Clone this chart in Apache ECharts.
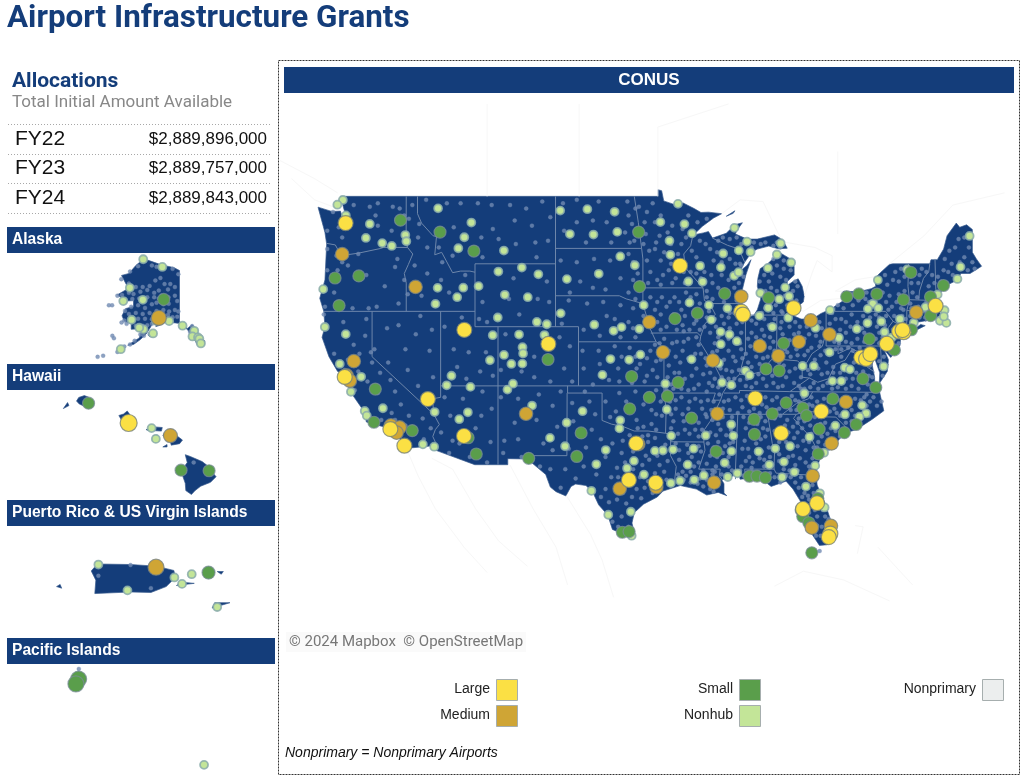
<!DOCTYPE html>
<html>
<head>
<meta charset="utf-8">
<title>Airport Infrastructure Grants</title>
<script src="https://cdn.jsdelivr.net/npm/echarts@6/dist/echarts.min.js"></script>
<style>
  html, body { margin: 0; padding: 0; background: #fff; }
  #chart-container { width: 1024px; height: 784px; }
</style>
</head>
<body>
<div id="chart-container"></div>
<script>
// Table values
const fiscalYears = ["FY22", "FY23", "FY24"];
const fiscalAmounts = ["$2,889,896,000", "$2,889,757,000", "$2,889,843,000"];
const panelNames = ["Alaska", "Hawaii", "Puerto Rico & US Virgin Islands", "Pacific Islands"];
const hubNames = ["Large", "Medium", "Small", "Nonhub", "Nonprimary"];
const hubColors = ["#fbe044", "#cfa535", "#5a9e4b", "#c3e598", "#eceeee"];

// Land outlines, [lon, lat]
const conusLand = [
  [[-124.7,48.38],[-123.5,48.13],[-122.75,48.15],[-122.4,47.4],[-122.3,47.9],[-122.75,49],[-95.15,49],[-95.15,49.38],[-94.82,49.32],[-94.64,48.74],[-93.8,48.55],[-92.95,48.62],[-92,48.3],[-91.4,48.07],[-90.75,48.09],[-89.6,48],[-90.3,47.75],[-91.3,47.25],[-92.05,46.75],[-91.2,46.87],[-90.75,46.95],[-90.4,46.56],[-89.2,46.85],[-88.45,47.35],[-87.8,47.47],[-88.3,47],[-88.4,46.8],[-87.4,46.5],[-86.5,46.5],[-85,46.75],[-84.4,46.5],[-84.1,46.2],[-83.9,45.95],[-84.7,45.92],[-85.5,46.08],[-86.5,45.9],[-87,45.7],[-87.6,45.1],[-88,44.55],[-87.4,44.9],[-87.05,45.25],[-87.5,44.3],[-87.8,43.4],[-87.9,43],[-87.8,42.3],[-87.6,41.85],[-87.3,41.62],[-86.8,41.75],[-86.5,42.1],[-86.2,42.8],[-86.5,43.6],[-86.45,44.1],[-86.25,44.7],[-85.6,45],[-85,45.4],[-84.75,45.76],[-84.1,45.5],[-83.4,45.2],[-83.3,44.8],[-83.3,44.3],[-83.9,43.9],[-83.9,43.65],[-83.4,43.9],[-82.95,44.07],[-82.6,43.6],[-82.42,43],[-82.5,42.6],[-83.1,42.25],[-83.4,41.73],[-82.7,41.5],[-81.7,41.5],[-81,41.85],[-80.1,42.15],[-79,42.7],[-78.9,42.9],[-79.05,43.27],[-77.6,43.27],[-76.6,43.45],[-76.2,43.6],[-76.3,44.1],[-75.8,44.45],[-75,44.97],[-74.7,45],[-71.5,45],[-71.4,45.25],[-70.85,45.25],[-70.3,45.9],[-70,46.7],[-69.2,47.45],[-68.9,47.2],[-68.3,47.35],[-67.8,47.07],[-67.8,45.7],[-67.45,45.3],[-67,44.85],[-68,44.4],[-68.8,44.4],[-69.1,44],[-70.2,43.6],[-70.7,43.05],[-70.8,42.8],[-70.6,42.65],[-71,42.3],[-70.65,41.95],[-70.5,41.78],[-70,41.78],[-70.2,42.07],[-69.95,41.7],[-70.6,41.55],[-71.1,41.5],[-71.4,41.45],[-72.9,41.25],[-73.65,41],[-73.9,40.8],[-74,40.7],[-74,40.45],[-74.1,39.75],[-74.4,39.4],[-74.9,38.95],[-75.5,39.5],[-75.1,38.8],[-75.2,38],[-75.9,37.15],[-75.85,37.9],[-76.3,38.9],[-76.1,39.4],[-76.5,39.1],[-76.5,38.4],[-76.3,37.6],[-76.3,36.95],[-75.95,36.85],[-75.5,35.25],[-76.5,34.65],[-77.9,33.9],[-78.9,33.65],[-79.9,32.7],[-81,32],[-81.4,30.7],[-81.3,29.8],[-80.6,28.4],[-80.05,26.9],[-80.15,25.75],[-80.4,25.2],[-81.1,25.15],[-81.8,26.1],[-82.25,26.9],[-82.75,27.8],[-82.7,28.5],[-83.4,29.5],[-84,30.1],[-85.3,29.7],[-86.3,30.38],[-87.5,30.28],[-88,30.25],[-88.1,30.65],[-88.9,30.4],[-89.6,30.2],[-89.4,29.9],[-89.4,29.2],[-89.15,29],[-89.9,29.25],[-90.9,29.05],[-91.8,29.5],[-93.2,29.77],[-94.7,29.35],[-95.2,28.9],[-96.4,28.35],[-97.2,27.7],[-97.4,26.9],[-97.15,25.96],[-97.6,25.95],[-98.2,26.05],[-99.1,26.4],[-99.5,27.5],[-100.3,28.3],[-100.8,29.25],[-101.4,29.77],[-102.3,29.88],[-102.7,29.7],[-103.15,28.98],[-104,29.3],[-104.5,29.65],[-104.9,30.6],[-106.5,31.75],[-108.2,31.78],[-108.2,31.33],[-111.07,31.33],[-114.8,32.5],[-114.72,32.72],[-117.12,32.53],[-117.25,32.85],[-117.9,33.6],[-118.4,33.74],[-118.5,34.03],[-119.2,34.15],[-120.5,34.45],[-120.65,35.15],[-121.9,36.6],[-122.05,36.95],[-122.5,37.5],[-122.5,37.8],[-123,38],[-123.75,39],[-124.35,40.3],[-124.1,41],[-124.2,42],[-124.55,42.84],[-124.1,44],[-123.95,46.2],[-124.1,46.9]],
  [[-74,40.6],[-73.75,40.85],[-72.6,40.98],[-72.3,41.15],[-71.9,41.07],[-73,40.65]],
  [[-89.2,47.85],[-88.45,48.17],[-88.6,48.02]]
];
const alaskaLand = [
  [[-141,69.65],[-143.5,70.1],[-148.5,70.45],[-152,70.85],[-156.5,71.35],[-160,70.4],[-163,69.2],[-166.2,68.9],[-163.8,67.2],[-161.8,66.5],[-164,66.6],[-168,65.65],[-164.5,64.5],[-161,64.6],[-161,63.5],[-164.5,63.05],[-166,61.6],[-165,60.5],[-162,59.9],[-162,58.7],[-158.5,58.8],[-157.3,58.6],[-158.5,56.7],[-161,55.8],[-163.5,54.9],[-161,55.1],[-158,56.3],[-155.5,57.6],[-153.8,59],[-152.7,60],[-151.5,60.9],[-150,61.2],[-151.3,59.3],[-150,59.5],[-148,60],[-146,60.8],[-144.5,60.2],[-141,60]],
  [[-141,60.3],[-139.7,59.55],[-137.5,58.6],[-136.3,57.7],[-134.5,56.3],[-133.3,55.1],[-131.5,54.8],[-130.1,55],[-130,56],[-131.9,56.6],[-133.8,58.8],[-135.5,59.75],[-137.5,58.9]],
  [[-154.5,57.4],[-153,58.1],[-152.2,57.6],[-153.8,56.9]]
];
const hawaiiLand = [
  [[-159.78,22.05],[-159.7,22.17],[-159.5,22.23],[-159.35,22.18],[-159.3,22.05],[-159.35,21.93],[-159.5,21.88],[-159.68,21.95]],
  [[-160.25,21.8],[-160.1,22],[-160.05,21.9]],
  [[-158.27,21.57],[-158.1,21.62],[-157.97,21.72],[-157.8,21.5],[-157.65,21.3],[-157.85,21.26],[-158.1,21.3]],
  [[-157.3,21.1],[-157,21.19],[-156.72,21.17],[-156.75,21.05],[-157.25,21.08]],
  [[-157.05,20.9],[-156.9,20.92],[-156.85,20.75],[-157,20.75]],
  [[-156.7,20.9],[-156.6,21.03],[-156.45,20.92],[-156.25,20.93],[-156,20.75],[-156.1,20.63],[-156.4,20.58],[-156.45,20.78]],
  [[-156.7,20.52],[-156.55,20.6],[-156.55,20.52]],
  [[-155.9,20.26],[-155.72,20.2],[-155.3,20.03],[-155.08,19.87],[-154.98,19.72],[-154.8,19.52],[-155,19.33],[-155.35,19.2],[-155.55,19.05],[-155.68,18.92],[-155.88,19.05],[-155.9,19.3],[-156.05,19.7],[-155.83,20]]
];
const puertoRicoLand = [
  [[-67.27,18.37],[-67.15,18.5],[-66.5,18.49],[-66,18.46],[-65.65,18.38],[-65.62,18.25],[-65.8,18.08],[-66.1,17.97],[-66.5,17.98],[-67.2,17.95],[-67.18,18.2]],
  [[-67.95,18.08],[-67.88,18.12],[-67.85,18.05]],
  [[-65.6,18.1],[-65.25,18.14],[-65.5,18.16]],
  [[-65.05,18.33],[-64.85,18.37],[-64.9,18.3]],
  [[-64.8,18.36],[-64.68,18.36],[-64.72,18.31]],
  [[-64.9,17.68],[-64.55,17.78],[-64.85,17.78]]
];
const pacificLand = [
  [[144.62,13.25],[144.95,13.65],[144.95,13.42],[144.75,13.24]],
  [[145.68,15.05],[145.8,15.28],[145.82,15.1]],
  [[189.15,-14.37],[189.45,-14.26],[189.4,-14.33]]
];

// State borders, [lon, lat]
const stateLines = [
  [[-124,46.25],[-123.2,46.15],[-122.8,45.65],[-122.2,45.55],[-121.2,45.65],[-119.3,45.93],[-119,46],[-116.92,46]],
  [[-117.03,49],[-117.04,46.42],[-116.92,46],[-116.46,45.6],[-116.85,44.95],[-117.2,44.4],[-117.03,43.8],[-117.03,42]],
  [[-124.2,42],[-111.05,42]],
  [[-120,42],[-120,39],[-114.63,35],[-114.15,34.27],[-114.5,33.9],[-114.72,33.4],[-114.5,33],[-114.72,32.72]],
  [[-114.04,42],[-114.04,36.2],[-114.75,36.1],[-114.63,35]],
  [[-114.04,37],[-94.62,37]],
  [[-109.05,41],[-109.05,31.33]],
  [[-111.05,45],[-111.05,41],[-102.05,41],[-102.05,37]],
  [[-116.05,49],[-116.05,48],[-115.7,47.45],[-114.7,46.7],[-114.4,46.65],[-114.55,45.55],[-113.95,45.7],[-113.45,45.05],[-113,44.45],[-112.3,44.55],[-111.5,44.55],[-111.05,44.48]],
  [[-111.05,45],[-104.05,45]],
  [[-104.05,49],[-104.05,41]],
  [[-104.05,45.94],[-96.56,45.94]],
  [[-104.05,43],[-98.5,43],[-97.9,42.8],[-96.45,42.5]],
  [[-102.05,40],[-95.3,40]],
  [[-97.2,49],[-96.85,47.5],[-96.56,45.94],[-96.45,45.3],[-96.45,42.5],[-96.1,41.6],[-95.9,41],[-95.3,40],[-94.9,39.8],[-94.62,39.1],[-94.62,36.5],[-94.43,35.4],[-94.48,33.64]],
  [[-96.45,43.5],[-91.22,43.5]],
  [[-92.1,46.75],[-92.3,46.1],[-92.9,45.6],[-92.75,44.75],[-91.22,43.5],[-91.1,42.7],[-90.64,42.5],[-90.15,41.8],[-91.05,41.2],[-91.42,40.38],[-91.5,40],[-90.7,39],[-90.2,38.75],[-90.2,38.4],[-89.5,37.3],[-89.13,36.98],[-89.5,36.5],[-89.7,36],[-90.3,35],[-90.6,34.5],[-91.1,33.9],[-91.15,33],[-91.05,32.4],[-91.6,31],[-89.73,31],[-89.8,30.5],[-89.55,30.2]],
  [[-95.77,40.58],[-91.73,40.6],[-91.42,40.38]],
  [[-90.64,42.5],[-87.8,42.5]],
  [[-90.4,46.56],[-89.1,46.13],[-88.1,45.9],[-87.6,45.1]],
  [[-87.53,41.7],[-87.53,39.35],[-88.05,37.8]],
  [[-84.8,41.7],[-84.82,39.1]],
  [[-87.2,41.76],[-84.8,41.76],[-83.4,41.73]],
  [[-89.13,36.98],[-88.05,37.8],[-87.1,37.8],[-86,38],[-85.4,38.7],[-84.82,39.1],[-84.2,38.8],[-83,38.72],[-82.6,38.4],[-82.2,38.6],[-81.75,39.2],[-80.85,39.7],[-80.52,40.64]],
  [[-80.52,42],[-80.52,39.72],[-75.79,39.72]],
  [[-79.76,42.27],[-79.76,42],[-75.35,42],[-74.7,41.36],[-75.1,40.95],[-75.2,40.65],[-74.75,40.2],[-75.4,39.8]],
  [[-74.7,41.36],[-73.9,41]],
  [[-82.6,38.4],[-82.6,37.6],[-81.97,37.54],[-83.67,36.6]],
  [[-81.97,37.54],[-81.25,37.25],[-80.3,37.5],[-79.7,38.5],[-78.87,38.76],[-78.35,39.4],[-77.83,39.13],[-77.72,39.32]],
  [[-79.48,39.72],[-79.48,39.2],[-78.4,39.6],[-77.72,39.32],[-77.1,38.85],[-76.95,38.3],[-76.3,37.95]],
  [[-89.4,36.5],[-88.05,36.5],[-88.05,36.68],[-83.67,36.6],[-75.87,36.55]],
  [[-81.68,36.59],[-82.05,36.1],[-83.1,35.77],[-84.32,35]],
  [[-90.3,35],[-83.1,35]],
  [[-94.62,36.5],[-90.15,36.5],[-90.35,36],[-89.7,36]],
  [[-94.04,33.02],[-91.15,33]],
  [[-94.04,33.55],[-94.04,32],[-93.55,31.2],[-93.7,30.1],[-93.85,29.7]],
  [[-88.2,35],[-88.4,31],[-88.4,30.25]],
  [[-85.6,35],[-85.2,32.9],[-85,32.3],[-85.05,31],[-84.86,30.7],[-82.2,30.57],[-82.05,30.36],[-82,30.75],[-81.45,30.7]],
  [[-87.6,31],[-85,31]],
  [[-87.6,31],[-87.5,30.3]],
  [[-83.1,35],[-83.35,34.7],[-82.55,33.95],[-81.9,33.4],[-81.4,32.6],[-80.9,32.05]],
  [[-83.1,35],[-82.3,35.2],[-81.05,35.15],[-80.8,34.82],[-79.67,34.8],[-78.55,33.86]],
  [[-103,37],[-103,36.5],[-100,36.5],[-100,34.56],[-99.2,34.3],[-98.1,34.1],[-97.2,33.8],[-96,33.8],[-94.48,33.64],[-94.04,33.55]],
  [[-103.04,36.5],[-103.06,32],[-106.6,32],[-106.53,31.78]],
  [[-71.5,45],[-71.6,44.5],[-72.05,44.1],[-72.4,43.3],[-72.46,42.73]],
  [[-71.05,45.3],[-70.98,43.4],[-70.7,43.07]],
  [[-73.35,45],[-73.4,43.6],[-73.27,42.75],[-73.5,42.05],[-73.5,41.3],[-73.65,41]],
  [[-73.27,42.75],[-71.3,42.7],[-70.8,42.87]],
  [[-73.5,42.05],[-71.38,42.02],[-71.13,41.5]],
  [[-71.8,42.02],[-71.85,41.32]],
  [[-75.79,39.72],[-75.7,38.46],[-75.05,38.45]]
];

// Faint basemap lines outside the US
const basemapLines = [
  [[-117,32.5],[-116,30.5],[-114.5,28],[-112,25],[-110,23]],
  [[-114.8,31.8],[-113,31],[-111,28],[-109,25.5],[-106.5,23.5]],
  [[-108,31.3],[-106,28],[-104,25],[-103,22]],
  [[-103.1,29],[-101,26],[-100,24],[-99,21]],
  [[-110,49],[-110,54]],
  [[-102,49],[-102,54]],
  [[-95.15,49],[-95.15,52.8],[-89,54]],
  [[-79.5,46.8],[-79.5,51.5]],
  [[-89.6,48],[-88,48.8],[-86,48.7],[-84.8,47],[-84.4,46.5]],
  [[-82.4,43],[-81.7,44.5],[-81.3,45.2],[-80,44.5],[-80,45.5],[-81.5,46],[-84,46.3]],
  [[-83.1,42.2],[-82.5,42],[-81,42.7],[-79,42.85]],
  [[-79.05,43.27],[-79.7,43.3],[-78,44],[-76.3,44.2]],
  [[-75,45],[-72,46.7],[-69.5,48.5],[-65,49.2]],
  [[-123,49.2],[-125,50],[-128,51]],
  [[-123.4,48.4],[-125,48.8],[-127,50]],
  [[-85,21.9],[-82.5,23.1],[-79,22.4],[-75,20.7]],
  [[-78,26.7],[-77.3,26.6],[-77.8,24.5]],
  [[-76,25],[-74.5,23.5],[-73,22]]
];

// Airports by hub size, [lon, lat]
const largeHubs = [[-122.3,47.45],[-122.38,37.62],[-118.41,33.94],[-117.19,32.73],[-115.15,36.08],[-112.01,33.44],[-111.98,40.79],[-104.67,39.86],[-93.22,44.88],[-97.04,32.9],[-97.67,30.19],[-95.34,29.98],[-87.9,41.98],[-87.75,41.79],[-83.35,42.21],[-84.43,33.64],[-86.68,36.12],[-80.94,35.21],[-81.31,28.43],[-82.53,27.98],[-80.15,26.07],[-80.29,25.8],[-77.46,38.95],[-77.04,38.85],[-76.67,39.18],[-75.24,39.87],[-74.17,40.69],[-73.78,40.64],[-73.87,40.78],[-71,42.36]];
const mediumHubs = [[-122.6,45.59],[-121.59,38.7],[-116.22,43.56],[-122.22,37.72],[-121.93,37.36],[-118.36,34.2],[-117.6,34.06],[-117.87,33.68],[-106.61,35.04],[-98.47,29.53],[-96.85,32.85],[-95.28,29.65],[-95.89,41.3],[-94.71,39.3],[-90.37,38.75],[-87.9,42.95],[-86.29,39.72],[-84.67,39.05],[-82.89,40],[-81.85,41.41],[-80.23,40.49],[-72.68,41.94],[-78.79,35.88],[-80.04,32.9],[-89.98,35.04],[-90.26,29.99],[-81.69,30.49],[-81.76,26.54],[-80.1,26.68]];
const smallHubs = [[-117.53,47.62],[-121.15,44.25],[-123.22,44.12],[-122.87,42.37],[-114.09,46.92],[-111.15,45.78],[-104.7,38.81],[-96.82,46.92],[-96.74,43.58],[-89.34,43.14],[-85.52,42.88],[-93.66,41.53],[-91.71,41.88],[-78.73,42.94],[-77.67,43.12],[-76.11,43.11],[-73.15,44.47],[-73.8,42.75],[-71.44,42.93],[-70.31,43.65],[-71.43,41.72],[-73.1,40.8],[-76.76,40.19],[-74.58,39.46],[-119.72,36.78],[-119.84,34.43],[-116.51,33.83],[-111.65,33.31],[-110.94,32.12],[-106.38,31.8],[-101.82,33.66],[-102.2,31.94],[-98.24,26.18],[-97.65,26.23],[-97.6,35.39],[-97.43,37.65],[-95.89,36.2],[-94.31,36.28],[-93.38,37.24],[-85.74,38.17],[-84.6,38.04],[-84.22,39.9],[-77.32,37.5],[-76.2,36.89],[-83.99,35.81],[-79.94,36.1],[-82.54,35.44],[-85.2,35.04],[-82.22,34.9],[-92.22,34.73],[-86.78,34.64],[-86.75,33.56],[-77.9,34.27],[-81.12,33.94],[-78.93,33.68],[-90.08,32.31],[-81.2,32.13],[-87.19,30.47],[-86.53,30.48],[-85.8,30.36],[-81.24,28.78],[-82.69,27.91],[-82.55,27.4],[-82.02,26.92],[-81.76,24.56]];
const nonhubs = [[-122.54,48.79],[-123.02,48.52],[-122.28,47.9],[-120.2,47.4],[-120.54,46.57],[-119.12,46.26],[-118.29,46.09],[-117.11,46.74],[-117.02,46.37],[-124.25,43.42],[-124.11,40.98],[-122.29,40.51],[-122.81,38.51],[-114.3,43.5],[-112.07,43.51],[-112.6,42.91],[-114.49,42.48],[-114.26,48.31],[-111.98,46.61],[-112.5,45.95],[-111.37,47.48],[-108.54,45.81],[-110.74,43.61],[-109.02,44.52],[-106.98,44.77],[-105.54,44.35],[-108.46,43.06],[-106.46,42.91],[-109.07,41.6],[-104.81,41.16],[-105.67,41.31],[-109.51,40.44],[-109.75,38.76],[-108.53,39.12],[-107.22,40.48],[-106.92,39.64],[-106.87,39.22],[-107.89,38.51],[-106.93,38.53],[-105.01,40.45],[-103.64,48.18],[-101.28,48.26],[-98.91,48.11],[-102.8,46.8],[-100.75,46.77],[-98.68,46.93],[-103.06,44.05],[-100.29,44.38],[-98.42,45.45],[-97.15,44.91],[-103.6,41.87],[-100.68,41.13],[-99,40.73],[-98.31,40.97],[-96.76,40.85],[-96.38,42.4],[-99.27,38.84],[-97.65,38.79],[-96.67,39.14],[-93.4,48.57],[-94.93,47.51],[-92.84,47.39],[-92.18,46.84],[-94.14,46.4],[-94.06,45.55],[-92.5,43.9],[-91.26,43.88],[-91.48,44.87],[-89.47,45.63],[-89.67,44.78],[-88.52,44.26],[-88.13,44.48],[-88.11,45.82],[-87.4,46.35],[-88.49,47.17],[-85.58,44.74],[-84.8,45.57],[-84.47,46.25],[-83.56,45.08],[-87.09,45.72],[-84.08,43.53],[-83.74,42.97],[-84.59,42.78],[-85.55,42.23],[-86.24,43.17],[-83.81,41.59],[-86.32,41.71],[-85.19,40.98],[-88.92,40.48],[-88.28,40.04],[-89.68,39.84],[-90.51,41.45],[-89.69,40.66],[-89.1,42.2],[-90.71,42.4],[-92.4,42.56],[-92.22,38.82],[-89.84,38.55],[-81.44,40.92],[-79.4,40.27],[-76.92,41.24],[-80.23,39.3],[-82.56,38.37],[-81.59,38.37],[-80.18,42.08],[-76.02,43.99],[-73.47,44.65],[-75.72,41.34],[-76.46,42.49],[-75.98,42.21],[-74.1,41.5],[-76.89,42.16],[-75.44,40.65],[-77.85,40.85],[-74.81,40.28],[-75.51,38.34],[-78.9,38.26],[-78.45,38.14],[-68.04,46.69],[-68.83,44.81],[-69.1,44.06],[-70.82,43.08],[-71.88,42.27],[-70.22,42.07],[-70.62,41.39],[-70.06,41.25],[-70.28,41.67],[-72.89,41.26],[-121.84,36.59],[-119.06,35.43],[-120.64,35.24],[-120.46,34.9],[-115.58,32.83],[-114.6,32.66],[-114.56,35.16],[-113.51,37.04],[-111.45,36.93],[-113.1,37.7],[-111.67,35.14],[-112.42,34.65],[-120.95,37.63],[-108.23,36.74],[-107.75,37.15],[-106.09,35.62],[-101.7,35.22],[-103.08,34.4],[-104.53,33.3],[-103.22,32.69],[-100.93,29.37],[-100.5,31.36],[-99.68,32.41],[-98.49,33.99],[-98.42,34.57],[-97.23,31.61],[-97.83,31.07],[-96.36,30.59],[-99.46,27.54],[-97.5,27.77],[-97.43,25.91],[-99.97,37.76],[-94.5,37.15],[-88.77,37.06],[-89.57,37.23],[-87.53,38.04],[-87.17,37.74],[-79.97,37.33],[-79.2,37.33],[-77.38,35.64],[-77.04,35.07],[-77.61,34.83],[-78.88,34.99],[-82.41,36.48],[-94.37,35.34],[-93.99,33.45],[-93.83,32.45],[-95.4,32.35],[-94.71,32.38],[-92.04,32.51],[-88.59,33.45],[-88.77,34.27],[-90.99,33.48],[-88.75,32.33],[-86.39,32.3],[-84.94,32.52],[-81.96,33.37],[-83.65,32.69],[-84.19,31.54],[-85.45,31.32],[-89.34,31.47],[-92.55,31.33],[-81.47,31.26],[-83.28,30.78],[-88.24,30.69],[-84.35,30.4],[-89.07,30.41],[-91.15,30.53],[-91.99,30.2],[-93.22,30.13],[-94.02,29.95],[-82.27,29.69],[-81.06,29.18],[-80.65,28.1],[-80.7,32.22],[-79.72,34.19]];
const nonprimaryWest = [[-123.4,48.1],[-122.9,47.2],[-123.9,47],[-122.6,46.6],[-121.6,48.5],[-120.2,48.4],[-119.5,48.6],[-118.2,48.4],[-117.6,48.3],[-119.5,47.3],[-118.3,47],[-117.2,47.9],[-119.7,47.9],[-123.9,45.9],[-123.1,45.5],[-122.1,44.9],[-123.9,44.6],[-123.3,43.2],[-124.1,42.3],[-121.7,42.2],[-121.2,45.6],[-120.5,44.3],[-118.9,43.6],[-117.8,45.3],[-118,44.8],[-117.2,44],[-119.6,42.3],[-120.3,42.2],[-117.7,42.5],[-123.3,39.2],[-124.2,41.8],[-122.5,41.3],[-120.5,41.5],[-121.6,39.8],[-120.6,40.4],[-120.1,39.3],[-121.8,38.9],[-121.2,38],[-119.3,37.9],[-118.4,37.4],[-120.4,37.3],[-119.5,36.5],[-118,36.6],[-117.5,35.7],[-118.3,35.1],[-116.8,34.9],[-115.6,34.7],[-114.9,34],[-116.3,33.6],[-115.5,33.2],[-117.2,33],[-121.5,36.7],[-122.1,37.3],[-119.8,39.5],[-118.7,40.9],[-117.7,41.1],[-116.2,40.5],[-115.8,41.7],[-114.8,40.8],[-115,39.4],[-116.9,38.1],[-118.6,38.6],[-117.1,39.5],[-114.7,37.6],[-116,37],[-116.8,47.7],[-116.5,48.5],[-115.9,47.4],[-116,46.6],[-115.2,46],[-116.3,44.9],[-115.2,44.4],[-113.9,45.1],[-114,44],[-116.9,43.1],[-115.7,43],[-113.3,43.2],[-111.9,44.3],[-115.3,48.8],[-113.5,48.6],[-112.3,48.6],[-110.8,48.6],[-109.6,48.5],[-108,48.5],[-106.6,48.3],[-105.2,48.7],[-104.5,47.8],[-106.1,47.3],[-107.6,47.6],[-109.5,47.1],[-110.5,46.6],[-112.9,47.2],[-114.2,46],[-113,45.5],[-110.4,45.4],[-107.5,46.2],[-105.8,46.3],[-104.7,46.4],[-105.7,45.4],[-109,46.5],[-110.4,42.6],[-110,41.3],[-107.2,41.8],[-105.6,42.8],[-104.6,42.6],[-104.8,43.9],[-107.7,44.1],[-108.1,42.8],[-110.7,41.5],[-113.7,41],[-112.2,41.6],[-112.9,39.5],[-111.6,39.3],[-110.1,39.3],[-109.5,37.7],[-112.6,38.3],[-111.8,37.5],[-110.6,38],[-113.7,36.2],[-112.1,36.1],[-110.4,36.6],[-109.6,35.4],[-110.5,34.9],[-113.2,34.9],[-114,33.7],[-113,33.1],[-111,34],[-109.7,33],[-110,31.5],[-111.5,31.9],[-113.3,32.2],[-112.4,32.9],[-108.4,40.5],[-107,38],[-105.9,37.6],[-103.7,40.3],[-102.8,39.7],[-103.3,38.2],[-104.5,37.3],[-102.6,37.3],[-105.9,39],[-108.8,38.1],[-108.8,36.2],[-107.3,36.1],[-105.5,36.4],[-103.6,36.6],[-104.3,35.6],[-107.6,34.4],[-105.7,34.6],[-108.5,33.1],[-107.3,33.2],[-105.1,32.9],[-108.6,32.2],[-107,31.9],[-103.9,34.1],[-104.3,32.4],[-102.6,35.8],[-101.1,35.9],[-100.6,35],[-102.5,34.5],[-100.9,33.9],[-101.4,32.6],[-102.9,32.5],[-104.5,31],[-103.2,31],[-105.4,31.2],[-103.6,29.6],[-102.3,30.3],[-101.6,31.2],[-100.1,33.2],[-99.7,31.9],[-100.5,30.6],[-99.7,29.5],[-122.4,38.1],[-122.1,38.8],[-120,38.6],[-121.1,39.2],[-122.6,47.7],[-123,44.6],[-122.6,45.1],[-117.1,34.2],[-118,34.6],[-119.2,34.6]];
const nonprimaryPlains = [[-103.3,47],[-103.4,48.6],[-102.2,47.5],[-100.3,48.7],[-99.6,47.5],[-99.2,46.3],[-97.7,47.9],[-97.8,48.7],[-97.6,46.3],[-101.4,46.3],[-98,46.9],[-100.8,47.6],[-102.2,48.8],[-103.6,45.2],[-102.2,45.1],[-100.7,45.3],[-99.3,45.2],[-97.7,45.6],[-101.9,43.9],[-102.8,43.2],[-100.8,43.5],[-99.7,43.4],[-98.4,44.1],[-97.7,43.2],[-96.9,44.4],[-97.3,45.1],[-102.9,42.7],[-101.3,42.5],[-99.9,42.6],[-98.4,42.4],[-97.3,42.2],[-103.5,41.2],[-101.6,40.8],[-99.6,41.7],[-100.2,40.4],[-98.9,41.5],[-97.7,41.3],[-97.1,40.3],[-98.4,40.3],[-101.7,39.4],[-100.3,39.4],[-98.9,39.7],[-97.6,39.6],[-95.8,39.4],[-101.6,38.2],[-99.4,37.4],[-98.6,38.2],[-97,38.2],[-95.6,38.1],[-98.5,37.3],[-96.3,37.3],[-95.2,37.6],[-100.8,37.1],[-96.1,38.9],[-100.2,38.5],[-94.9,38.8],[-99.7,35.9],[-98.5,36.5],[-97.1,36.6],[-95.3,36.7],[-96.4,35.7],[-98.8,35.2],[-97,34.6],[-95.3,35],[-95.7,34.3],[-96.4,34.1],[-94.9,35.9],[-99.3,34.8],[-101.5,36.6],[-99.1,32.9],[-98.2,33.1],[-96.5,33.4],[-95.4,33.3],[-98.3,32.2],[-96.2,32],[-95,31.3],[-96.5,31.3],[-98.7,31.1],[-97.9,30],[-99.2,30.4],[-96.3,29.6],[-94.6,30.8],[-95.4,30.7],[-98.7,28.7],[-99.4,28.5],[-97.9,28.4],[-97.7,26.6],[-98.3,27.4],[-99.1,27],[-96.6,28.8],[-95.6,29.2],[-97.6,33.5],[-94.5,32.8],[-95.2,32],[-94.3,31.6],[-96.7,30.4],[-97,29.5],[-98.2,29.2],[-100.1,28.9],[-98.6,26.6],[-97.3,31],[-96,30.1],[-95,29.8],[-94.4,30.2],[-95.9,31.7],[-94.9,32.5],[-96,33],[-97.3,32.3],[-98,31.5],[-98.6,30.4],[-97.4,28.9],[-96,33.5],[-96.9,34],[-95.3,33.9],[-96.2,36.3],[-95.7,35.3],[-97.9,35.9],[-94.8,34.9],[-98.3,39],[-97.1,39],[-95.4,39.8],[-96.7,38.5],[-95.3,38.7],[-96.1,37.7],[-97.4,37.2],[-97.3,40.9],[-96.4,41.7],[-97.1,42.8],[-97.3,44],[-97.2,46.4],[-97.4,47.4],[-97.1,48.3]];
const nonprimaryEast = [[-96.8,48.4],[-95.6,48.6],[-95.4,47.5],[-93.9,47.3],[-96.2,46.8],[-95.3,46.3],[-94.3,46.9],[-93.1,46.2],[-92.5,47.9],[-91.7,47.5],[-90.9,47.7],[-95.9,45.8],[-94.9,45.2],[-93.4,45.6],[-92.9,44.5],[-95.8,44.5],[-94.7,44.3],[-93.6,44.1],[-96,43.8],[-94.9,43.7],[-93.9,43.8],[-92.3,44.5],[-95.4,45.9],[-96.3,47.5],[-94,45],[-95.8,42.9],[-94.8,42.9],[-93.7,42.9],[-92.7,43.2],[-91.8,43.1],[-95.4,42.1],[-94.4,42.3],[-93.1,42.1],[-91.5,42.5],[-95.2,41.3],[-94.4,41],[-93,41.1],[-92,41.2],[-91.1,41],[-90.7,42],[-93.5,40.8],[-92.4,40.8],[-94.6,40.2],[-93.5,40],[-92.5,40.2],[-91.6,39.8],[-94.2,39.4],[-93,39.4],[-91.9,39.2],[-91,38.9],[-94.2,38.4],[-93.2,38.6],[-91.8,38.2],[-90.6,37.9],[-94.3,37.6],[-92.8,37.5],[-91.6,37.1],[-90.4,37],[-93.8,36.8],[-92.5,36.7],[-89.9,36.9],[-90.9,36.6],[-89.6,37.6],[-93.3,37.9],[-94.1,35.9],[-93.1,36.2],[-91.9,36.1],[-90.8,36],[-93.6,35.4],[-92.5,35.4],[-91.3,35.4],[-90.5,35.3],[-93.8,34.5],[-92.9,34.5],[-91.6,34.4],[-90.9,34.8],[-93.4,33.6],[-92.4,33.6],[-91.6,33.4],[-94,35],[-93.6,32.9],[-92.6,32.8],[-91.6,32.7],[-93.3,31.7],[-92.2,31.9],[-91.6,31.5],[-93,30.8],[-92.3,30.8],[-91.2,30.9],[-90.4,30.6],[-92.9,30.2],[-91.7,29.9],[-90.6,29.9],[-90,30.3],[-92.3,30],[-90.6,29.5],[-89.9,29.8],[-90.4,34.6],[-89.5,34.8],[-88.7,34.8],[-90.6,33.7],[-89.7,33.9],[-88.8,33.9],[-90.8,32.9],[-89.9,33],[-88.9,32.9],[-90.6,32],[-89.5,32.2],[-90.9,31.4],[-90.1,31.2],[-89,31.2],[-88.7,30.9],[-89.6,30.6],[-87.7,34.8],[-86.2,34.8],[-87.5,34],[-86,34],[-85.8,33.4],[-87.6,33.1],[-86.6,32.9],[-87.8,32.5],[-85.5,32.6],[-87.2,31.9],[-86.3,31.8],[-85.4,31.9],[-87.9,31.2],[-87,31.1],[-85.9,31.2],[-87.7,30.5],[-85,34.7],[-83.9,34.6],[-85,33.8],[-83.4,34.1],[-82.6,34],[-84.6,33],[-83.3,33.3],[-82.5,33.1],[-84.6,32.1],[-83.4,32],[-82.3,32.4],[-81.6,32.6],[-84.2,31],[-83.2,31.3],[-82.3,31.5],[-81.7,31.8],[-83.7,30.9],[-86.9,30.8],[-85.4,30.7],[-84.5,30],[-83.6,30.4],[-82.7,30.4],[-82.9,29.6],[-81.7,29.8],[-82.1,29],[-81.4,28.9],[-82.4,28.4],[-81.7,28.3],[-81,28.3],[-82,27.7],[-81.3,27.4],[-80.6,27.4],[-81.6,26.8],[-80.9,26.6],[-81.5,26.2],[-81,25.9],[-80.6,25.5],[-80.5,26.4],[-80.3,27.2],[-81.08,24.7],[-82.4,34.5],[-81.5,34.8],[-80.6,34.4],[-79.6,34.3],[-81.5,33.9],[-80.4,33.6],[-79.3,33.4],[-81.2,33],[-80.6,32.8],[-80.3,32.5],[-83.6,35.3],[-82.9,35.9],[-81.8,36.2],[-81.7,35.6],[-80.7,36.1],[-79.8,35.4],[-80.9,35.6],[-78.9,36.2],[-78,36.1],[-77.2,36.2],[-76.4,36.2],[-78.3,35.3],[-79.3,34.9],[-77,35.6],[-76.1,35.6],[-78.3,34.5],[-75.7,35.9],[-76.8,34.9],[-82.4,36.8],[-81.2,36.8],[-80.4,37.2],[-80,36.8],[-78.8,36.8],[-77.7,36.8],[-76.9,37.1],[-79.3,37.9],[-78.2,37.5],[-77.3,38],[-78.1,38.6],[-76.5,37.6],[-75.6,37.7],[-81.9,37.8],[-80.9,37.8],[-81.5,38.8],[-80.5,38.6],[-80,39.2],[-80.6,39.4],[-79.2,39],[-78.2,39.4],[-88.5,37],[-87.5,37],[-86.6,37.2],[-85.7,37],[-84.7,36.9],[-86.4,37.8],[-85.2,37.7],[-84,37.6],[-83.3,37.2],[-84.2,38.4],[-83.2,38.2],[-82.7,37.6],[-89.4,35.9],[-88.4,36.2],[-87.4,36.3],[-85.8,36.2],[-84.8,36.2],[-83.5,36.3],[-88.9,35.3],[-87.8,35.5],[-86.8,35.4],[-85.7,35.5],[-84.6,35.4],[-88.2,35.1],[-86.3,35.1],[-82.5,36.2],[-90.1,41],[-89.6,41.7],[-88.5,41.9],[-88.3,41.2],[-89.4,41.2],[-90.6,40.6],[-88.9,40.9],[-87.9,40.6],[-90.2,39.9],[-89,39.4],[-87.9,39.5],[-90.4,39.3],[-89.4,38.8],[-88.4,38.7],[-88.1,38.1],[-89.2,38.1],[-89,37.5],[-88.4,40],[-87.8,41.3],[-87,41.4],[-85.9,41.5],[-85,41.5],[-87,40.6],[-86.1,40.8],[-85.4,40.3],[-87.1,39.7],[-86.2,40.1],[-85.4,39.6],[-86.6,39],[-85.6,39],[-87.3,38.6],[-86.3,38.5],[-85.5,38.4],[-84.4,41.3],[-83.2,41.3],[-82.2,41],[-81.1,41.3],[-84.3,40.5],[-83.3,40.5],[-82.4,40.2],[-81.4,40.4],[-84.1,39.5],[-83.1,39.5],[-81.8,39.6],[-82.4,39.1],[-81.1,39.7],[-83.6,39],[-80.9,40.9],[-86.3,43.9],[-85.5,43.9],[-84.5,44.2],[-83.6,44.6],[-84.8,44.9],[-85.1,45.3],[-84.2,45.2],[-85.8,43.3],[-84.8,43.3],[-83.4,43.3],[-83,43.6],[-85.8,42.2],[-84.9,42.4],[-83.9,42.4],[-83.1,42.7],[-84.4,42],[-85.1,41.9],[-88.9,46.5],[-87.9,46.2],[-86.8,46.3],[-85.8,46.3],[-85.1,46.1],[-84.5,46],[-89.9,46.4],[-91.5,46.4],[-90.6,45.9],[-91.8,45.4],[-90.3,45.2],[-88.9,45.3],[-88,45],[-91.8,44.4],[-90.5,44.3],[-89,44],[-87.7,44.2],[-90.9,43.3],[-89.9,43.5],[-88.5,43.5],[-88,43],[-90.4,42.8],[-89.4,42.6],[-88.3,42.7],[-92.2,45.8],[-80,41.9],[-80.2,41.2],[-79.2,41.5],[-78.3,41.8],[-77.3,41.7],[-76.2,41.8],[-75.3,41.7],[-79.3,40.8],[-78.4,41],[-77.4,40.9],[-76.1,41],[-75.4,41.1],[-79.8,40],[-78.8,40],[-77.8,40.2],[-77.2,40],[-76.2,40.2],[-75.6,40.3],[-79,42.2],[-78.2,42.4],[-78.2,43.1],[-77.1,42.8],[-76.2,42.6],[-75.3,42.6],[-74.8,42.3],[-74,42.2],[-75.6,43.2],[-75,43],[-74.2,43.1],[-73.7,43.3],[-75.4,44.3],[-74.5,44.5],[-74.2,43.9],[-73.7,44.2],[-73.9,41.7],[-74.6,41.7],[-74.7,40.8],[-74.4,40.3],[-74.8,39.7],[-74.2,39.9],[-75.5,39],[-75.9,38.7],[-76.9,39.4],[-77.6,39.6],[-78.6,39.6],[-79.2,39.5],[-76.7,38.4],[-73.2,41.7],[-72.4,41.6],[-71.9,41.6],[-73.1,42.2],[-72.5,42.3],[-71.5,42.5],[-71,41.9],[-73,43.2],[-72.5,43.8],[-72.9,44.3],[-72.2,44.7],[-71.6,43.6],[-71.3,44.3],[-71.2,43],[-70.8,44.2],[-70.3,44.6],[-69.6,45],[-69.5,44.3],[-68.5,45.4],[-69.3,46],[-68.5,46.6],[-69.8,45.8],[-67.8,45.1],[-68.2,44.6]];
const nonprimaryEastMore = [[-96.1,48.1],[-94.9,47.9],[-93,47.1],[-95,46.7],[-94,46.2],[-92.7,46.6],[-96.4,46.2],[-94.6,45.7],[-93.2,44.8],[-94.2,44.6],[-95.2,44],[-92.8,43.8],[-96.1,45.2],[-91.4,44.1],[-95.2,42.6],[-94.1,42.6],[-93.3,42.6],[-92.3,42.9],[-94.9,41.8],[-93.8,41.8],[-92.8,41.7],[-91.8,41.4],[-90.9,41.6],[-94.9,40.8],[-92.9,40.7],[-91.5,40.8],[-95,39.9],[-93.9,39.9],[-92.9,40],[-91.8,40.3],[-93.6,39],[-92.5,38.9],[-91.4,39.2],[-90.9,38.4],[-93.7,37.9],[-92.2,37.7],[-91.2,37.8],[-90.2,37.5],[-94,37.1],[-93.1,36.8],[-92,36.8],[-90.7,37.2],[-94.4,36.7],[-89.8,36.4],[-93.6,36],[-92.4,35.9],[-91.4,35.9],[-90.3,35.9],[-93,35],[-92.1,35],[-91,35],[-94,34],[-92.8,33.9],[-91.9,33.9],[-91.3,33.9],[-93.3,32.4],[-92.5,32.2],[-91.4,32.3],[-92.8,31.3],[-92,31.2],[-93.4,30.6],[-92.7,30.5],[-91.5,30.3],[-90.9,30.2],[-90.2,30.8],[-91.2,29.7],[-90.3,29.3],[-89.9,34.3],[-89,34.4],[-90.1,33.5],[-89.2,33.5],[-88.6,33],[-90.3,32.6],[-89.3,32.7],[-90,31.9],[-89,31.9],[-90.4,30.9],[-87.2,34.4],[-86.5,34.3],[-85.8,34.5],[-87.1,33.6],[-86.2,33.2],[-85.6,33.9],[-87.3,32.5],[-86.1,32.3],[-86.9,31.5],[-85.9,31.7],[-87.5,31.6],[-88,30.9],[-84.5,34.9],[-84.1,34.2],[-83,34.4],[-84.5,33.5],[-83.8,33.7],[-83,33.7],[-84,33],[-83,32.7],[-82,33],[-84.6,31.6],[-83.8,31.9],[-82.8,31.8],[-82,31.2],[-81.9,30.9],[-83,30.9],[-86.4,30.7],[-85,30.4],[-84,30.5],[-83.2,30],[-82.4,29.2],[-81.6,29.2],[-82.6,28.9],[-82,28.7],[-80.9,28.8],[-81.5,27.9],[-80.8,27.9],[-81.9,27.2],[-80.6,26.1],[-81.3,26.7],[-80.3,26],[-81.4,25.9],[-82.9,34.7],[-81.9,34.2],[-81,34.3],[-80.1,34],[-79.7,33.8],[-81.8,33.6],[-80.9,33.4],[-79.8,33],[-81.3,32.6],[-83.1,35.3],[-82,35.7],[-81.3,35.9],[-80.3,35.9],[-79.3,36],[-80.2,35.2],[-81.3,35.3],[-79.6,35.1],[-78.5,35.9],[-77.6,35.6],[-77.5,36],[-76.7,35.9],[-78,34.9],[-78.8,34.4],[-77,36.4],[-81.9,36.9],[-81.6,37.2],[-80.8,37],[-79.5,36.9],[-78.3,37],[-77.2,37.4],[-79.9,37.9],[-78.8,37.5],[-77.9,37.9],[-78.7,38.3],[-77.6,38.6],[-76.8,37.7],[-82.7,36.8],[-82.1,38.1],[-81.2,38.2],[-80.4,37.9],[-79.9,38.3],[-81,39.1],[-79.7,39.5],[-88,37.4],[-87,36.9],[-86,37.5],[-85.1,37.2],[-84.3,37],[-85.5,38],[-84.6,38.6],[-83.7,38],[-82.9,37],[-87.4,37.5],[-89,36],[-87.9,36],[-86.9,36],[-86.1,35.7],[-85.2,36],[-84.2,35.9],[-83.2,36],[-89.5,35.4],[-87.2,35.2],[-85.6,35.1],[-84.9,35.3],[-90.2,41.5],[-89,41.6],[-87.9,41.7],[-89.9,40.3],[-89,40.2],[-88,39.9],[-90,39.4],[-88.6,39],[-87.8,38.9],[-89.7,38.2],[-88.7,38],[-88.5,37.5],[-88.9,41.9],[-87.9,42.2],[-86.6,41.2],[-85.5,41.1],[-87.3,40.2],[-86.6,40.3],[-85.9,40.4],[-85.1,40],[-86.7,39.5],[-85.9,39.6],[-87.5,39.2],[-86,38.9],[-87,38.3],[-85.9,38.1],[-85,39.4],[-84.5,40.9],[-83.7,41],[-82.8,41],[-81.8,41.1],[-84.5,39.9],[-83.7,40.1],[-82.9,40.6],[-82,40.5],[-81,40],[-83,39.1],[-82.1,39.4],[-83.9,39.3],[-84.4,39.3],[-85.2,44.4],[-84.2,44.7],[-85.9,44.3],[-84,44],[-85.3,43.5],[-84.1,43],[-83.2,43.9],[-86.1,41.9],[-85.3,42.6],[-84.3,41.9],[-83.5,42.7],[-87,46],[-88.3,46.6],[-86.2,46.2],[-84.8,46.3],[-89.5,46.6],[-91,46.2],[-90,45.7],[-91.3,45],[-89.6,45.1],[-88.4,45],[-91.1,44.5],[-89.6,44.3],[-88.1,43.8],[-90.4,43.8],[-89,43.2],[-88,42.7],[-87.9,44.9],[-90.9,42.9],[-79.7,41.5],[-78.8,41.3],[-77.8,41.3],[-76.7,41.6],[-75.9,41.6],[-79.9,40.6],[-78.8,40.6],[-77.2,40.6],[-75.9,40.6],[-79.4,39.9],[-78.3,39.9],[-76.7,39.9],[-75.9,39.9],[-79.5,42.4],[-78.6,42.8],[-77.7,42.7],[-76.8,42.6],[-77,43.2],[-76,42.2],[-75.1,42.1],[-74.4,42.6],[-73.8,42.1],[-75.2,43.7],[-74.7,44],[-75.9,44],[-74,44.7],[-73.6,41.5],[-74.2,41.3],[-72.8,41.8],[-72,42],[-73.2,42.5],[-71.8,42.6],[-71.1,42.1],[-72.6,42.9],[-72.4,44.3],[-73.1,43.8],[-71.8,44.5],[-71.5,43.1],[-71.1,43.8],[-70.5,43.9],[-69.9,44.5],[-68.9,45.1],[-69,46.5],[-68.1,46],[-70.2,45.3],[-67.6,44.7]];

// Inset airports, [lon, lat]
const alaskaMedium = [[-150,61.17]];
const alaskaSmall = [[-147.86,64.81]];
const alaskaNonhub = [[-156.77,71.29],[-148.47,70.19],[-162.6,66.88],[-165.44,64.51],[-161.84,60.78],[-156.65,58.68],[-158.5,59.04],[-156.94,64.74],[-151.25,60.57],[-145.48,60.49],[-152.49,57.75],[-139.66,59.5],[-134.58,58.35],[-135.36,57.05],[-132.95,56.8],[-132.37,56.48],[-131.71,55.36],[-166.54,53.9]];
const alaskaNonprimary = [[-149.5,70.3],[-151,70.2],[-153,70.4],[-159,70.3],[-162.5,69.5],[-166.3,68.3],[-163,67.6],[-160,67],[-157,67],[-154,67.2],[-151.5,68.1],[-149.3,68.5],[-147.5,67.5],[-145,67.5],[-143,67],[-141.5,69.1],[-144,69.9],[-146,66.6],[-150,66.4],[-152,66],[-155,66.5],[-158,66.2],[-161,65.8],[-163,66],[-166,65.6],[-164.5,64.8],[-161.5,64.9],[-168,65.5],[-158.5,65],[-155,65.2],[-152,65.2],[-150,65],[-148.8,65.5],[-145.8,65.2],[-143,65.5],[-142,64.5],[-145.7,64],[-148,63.9],[-151,64.2],[-153,63.9],[-156,63.2],[-159,63.7],[-162,63.4],[-164.7,62.6],[-163,62],[-160,62.2],[-157,62],[-154,62.2],[-151,62.6],[-148,62.8],[-145.5,62.5],[-143,62.8],[-141.5,62.5],[-146,61.8],[-149,61.6],[-153,60.9],[-156,61],[-159,61],[-162,60.5],[-165,60.6],[-164,59.9],[-160,59.5],[-157,59.5],[-155,59.6],[-153,59.9],[-151.5,60.3],[-149.5,60.2],[-147,60.9],[-144,61.3],[-142,61.4],[-158,57.5],[-160.5,56],[-162.5,55.1],[-165,54.6],[-156.5,57.2],[-154,57.6],[-152.8,57.3],[-135.5,59.4],[-135,58.5],[-136.4,58.1],[-133,55.5],[-131.6,55.9],[-170.2,57.2],[-169.5,56.6],[-170.3,63.7],[-171.7,63.7],[-166.2,60.2],[-176.6,51.9],[-174.2,52.2],[-168,53.2],[-167,54]];
const hawaiiLarge = [[-157.92,21.32]];
const hawaiiMedium = [[-156.43,20.9]];
const hawaiiSmall = [[-159.35,21.98],[-156.05,19.74],[-155.05,19.72]];
const hawaiiNonhub = [[-157.1,21.15],[-156.95,20.79]];
const hawaiiNonprimary = [[-156.6,20.9],[-155.6,20]];
const puertoRicoMedium = [[-66,18.44]];
const puertoRicoSmall = [[-64.97,18.34]];
const puertoRicoNonhub = [[-67.13,18.49],[-65.64,18.25],[-65.49,18.13],[-65.3,18.31],[-66.56,18.01],[-64.8,17.7]];
const puertoRicoNonprimary = [[-66.5,18.48],[-67.13,18.28],[-66.1,18.05]];
const pacificSmall = [[145.73,15.12],[144.8,13.48]];
const pacificNonhub = [[145.62,14.17],[189.3,-14.33]];
const pacificNonprimary = [[145.8,18.5]];

// Tier styles, drawn from the smallest marks upward
const tierStyles = {
  Nonprimary: { size: 4, color: "rgba(112,138,178,0.8)", border: "rgba(112,138,178,0.3)", width: 1 },
  Nonhub: { size: 8, color: hubColors[3], border: "rgba(138,172,170,0.85)", width: 1.8 },
  Small: { size: 12, color: hubColors[2], border: "rgba(120,140,150,0.75)", width: 1.2 },
  Medium: { size: 13.5, color: hubColors[1], border: "rgba(120,130,130,0.8)", width: 1.2 },
  Large: { size: 15, color: hubColors[0], border: "rgba(120,130,120,0.8)", width: 1.2 },
};

const mercator = {
  project: (p) => [
    (p[0] * Math.PI) / 180,
    -Math.log(Math.tan(Math.PI / 4 + (p[1] * Math.PI) / 360)),
  ],
  unproject: (p) => [
    (p[0] * 180) / Math.PI,
    ((2 * Math.atan(Math.exp(-p[1])) - Math.PI / 2) * 180) / Math.PI,
  ],
};

function registerLand(name, rings) {
  echarts.registerMap(name, {
    geoJson: {
      type: "FeatureCollection",
      features: [
        {
          type: "Feature",
          properties: { name },
          geometry: { type: "MultiPolygon", coordinates: rings.map((r) => [r]) },
        },
      ],
    },
  });
}

function geoPanel(map, box, corners) {
  return {
    map,
    projection: mercator,
    boundingCoords: corners,
    left: box[0],
    top: box[1],
    width: box[2],
    height: box[3],
    roam: false,
    silent: true,
    label: { show: false },
    itemStyle: { areaColor: "#143d7a", borderColor: "#3a5c8e", borderWidth: 0.7 },
  };
}

function airportSeries(name, geoIndex, data, z, size) {
  const s = tierStyles[name];
  return {
    type: "scatter",
    name,
    coordinateSystem: "geo",
    geoIndex,
    data,
    z,
    silent: true,
    progressive: 0,
    symbolSize: size || s.size,
    itemStyle: { color: s.color, borderColor: s.border, borderWidth: s.width, opacity: 1 },
  };
}

function lineSeries(coordsList, color, z) {
  return {
    type: "lines",
    coordinateSystem: "geo",
    geoIndex: 0,
    polyline: true,
    silent: true,
    z,
    lineStyle: { color, width: 1, opacity: 1 },
    data: coordsList.map((coords) => ({ coords })),
  };
}

// Static texts and bars around the maps
function textEl(text, x, y, font, fill, align) {
  return {
    type: "text",
    x,
    y,
    silent: true,
    style: { text, font, fill, align: align || "left", verticalAlign: "middle" },
  };
}

function buildGraphic() {
  const navy = "#143d7a";
  const sans = '"Liberation Sans", Arial, sans-serif';
  const els = [
    textEl("Airport Infrastructure Grants", 7, 19, "bold 31.4px Roboto", navy),
    textEl("Allocations", 12, 82, "bold 21px Roboto", navy),
    textEl("Total Initial Amount Available", 12, 103, "17px Roboto", "#888888"),
  ];
  const dotted = (x1, y1, x2, y2) => ({
    type: "line",
    silent: true,
    shape: { x1, y1, x2, y2 },
    style: { stroke: "#a8a8a8", lineWidth: 1, lineDash: [1, 2] },
  });
  els.push(dotted(8, 124.5, 272, 124.5));
  fiscalYears.forEach((fy, i) => {
    const mid = 139 + i * 29.5;
    els.push(textEl(fy, 15, mid, `21px ${sans}`, "#111111"));
    els.push(textEl(fiscalAmounts[i], 267, mid, `17px ${sans}`, "#111111", "right"));
    els.push(dotted(8, Math.round(mid + 14.5) + 0.5, 272, Math.round(mid + 14.5) + 0.5));
  });

  const barTops = [227, 364, 500, 638];
  panelNames.forEach((name, i) => {
    els.push({
      type: "rect",
      silent: true,
      shape: { x: 7, y: barTops[i], width: 268, height: 26 },
      style: { fill: navy },
    });
    els.push(textEl(name, 12, barTops[i] + 13, `bold 15.6px ${sans}`, "#ffffff"));
  });

  // CONUS frame and header
  els.push({
    type: "rect",
    silent: true,
    shape: { x: 278.5, y: 60.5, width: 741, height: 714 },
    style: { fill: "none", stroke: "#333333", lineWidth: 1, lineDash: [2, 1] },
  });
  els.push({
    type: "rect",
    silent: true,
    shape: { x: 284, y: 67, width: 730, height: 26 },
    style: { fill: navy },
  });
  els.push(textEl("CONUS", 649, 80, `bold 17px ${sans}`, "#ffffff", "center"));

  // Attribution
  els.push({
    type: "rect",
    silent: true,
    shape: { x: 286, y: 632, width: 240, height: 20 },
    style: { fill: "#fafafa" },
  });
  els.push(textEl("© 2024 Mapbox  © OpenStreetMap", 289, 642, "15px Roboto", "#777777"));

  // Legend
  const legendX = [496, 496, 739, 739, 982];
  const legendY = [679, 705, 679, 705, 679];
  hubNames.forEach((name, i) => {
    els.push(textEl(name, legendX[i] - 6, legendY[i] + 10, `14px ${sans}`, "#222222", "right"));
    els.push({
      type: "rect",
      silent: true,
      shape: { x: legendX[i] + 0.5, y: legendY[i] + 0.5, width: 21, height: 21 },
      style: { fill: hubColors[i], stroke: "#a6aeae", lineWidth: 1 },
    });
  });
  els.push(textEl("Nonprimary = Nonprimary Airports", 285, 753, `italic 14px ${sans}`, "#111111"));
  return els;
}

registerLand("conus", conusLand);
registerLand("alaska", alaskaLand);
registerLand("hawaii", hawaiiLand);
registerLand("puertorico", puertoRicoLand);
registerLand("pacific", pacificLand);

const chart = echarts.init(document.getElementById("chart-container"), null, { renderer: "canvas" });

chart.setOption({
  animation: false,
  backgroundColor: "#ffffff",
  tooltip: { show: false },
  graphic: { elements: buildGraphic() },
  geo: [
    geoPanel("conus", [284, 100, 730, 520], [[-127.66, 54.2], [-64.18, 19.14]]),
    geoPanel("alaska", [60, 253, 210, 109], [[-192.96, 72.14], [-101.65, 50.5]]),
    geoPanel("hawaii", [30, 392, 220, 106], [[-161.44, 22.35], [-153.59, 18.8]]),
    geoPanel("puertorico", [20, 530, 250, 100], [[-68.667, 19.13], [-63.765, 17.27]]),
    geoPanel("pacific", [10, 662, 260, 113], [[121.9, 20.76], [212.2, -17.72]]),
  ],
  series: [
    lineSeries(basemapLines, "#f7f7f7", 1),
    lineSeries(stateLines, "#6d86aa", 2),
    airportSeries("Nonprimary", 0, nonprimaryWest.concat(nonprimaryPlains, nonprimaryEast, nonprimaryEastMore), 3),
    airportSeries("Nonhub", 0, nonhubs, 4),
    airportSeries("Small", 0, smallHubs, 5),
    airportSeries("Medium", 0, mediumHubs, 6),
    airportSeries("Large", 0, largeHubs, 7),
    airportSeries("Nonprimary", 1, alaskaNonprimary, 3),
    airportSeries("Nonhub", 1, alaskaNonhub, 4),
    airportSeries("Small", 1, alaskaSmall, 5, 12),
    airportSeries("Medium", 1, alaskaMedium, 5, 15),
    airportSeries("Nonprimary", 2, hawaiiNonprimary, 3),
    airportSeries("Nonhub", 2, hawaiiNonhub, 4),
    airportSeries("Small", 2, hawaiiSmall, 5),
    airportSeries("Medium", 2, hawaiiMedium, 6, 14),
    airportSeries("Large", 2, hawaiiLarge, 7, 17),
    airportSeries("Nonprimary", 3, puertoRicoNonprimary, 3),
    airportSeries("Nonhub", 3, puertoRicoNonhub, 4),
    airportSeries("Small", 3, puertoRicoSmall, 5, 13),
    airportSeries("Medium", 3, puertoRicoMedium, 6, 16),
    airportSeries("Nonprimary", 4, pacificNonprimary, 3),
    airportSeries("Nonhub", 4, pacificNonhub, 4),
    airportSeries("Small", 4, pacificSmall, 5, 16),
  ],
});
</script>
</body>
</html>
